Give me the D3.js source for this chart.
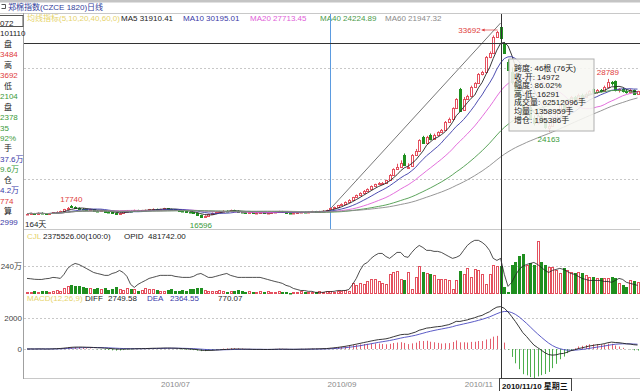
<!DOCTYPE html>
<html><head><meta charset="utf-8">
<script src="https://cdn.jsdelivr.net/npm/d3@7"></script>
<style>
body{margin:0;background:#fff}
svg{display:block}
text{font-family:"Liberation Sans","Noto Sans CJK SC",sans-serif;font-size:8px}
</style></head><body>
<svg id="c" width="640" height="391"></svg>
<script>
// ---------- DATA ----------
const opens=[16950,16980,17020,16950,17050,17000,16930,17010,17080,17150,
17200,17350,17680,17560,17480,17420,17380,17300,17350,17250,
17200,17280,17150,17100,17000,16950,17050,17200,17250,17200,
17300,17250,17280,17300,17350,17400,17350,17380,17450,17400,
17350,17300,17250,17200,17150,17100,17050,16850,16700,16800,
16950,17050,17150,17200,17250,17200,17300,17250,17150,17100,
17050,17100,17000,17050,17100,17000,17050,17100,17150,17200,
17100,17050,17000,17050,17100,17150,17100,17150,17200,17150,
17200,17250,17405,17480,17560,17700,17850,18000,18200,18400,
18600,18800,19000,19150,19400,19550,19600,19650,19900,20400,
20900,21100,22100,21000,21150,22100,22500,23700,23200,23900,
23500,23900,24100,24300,25000,25300,26200,27900,26100,27020,
27300,28100,28400,29200,29400,30700,31100,32500,33300,31900,
30300,29400,28300,27800,26600,25700,26300,25400,24900,25500,
25000,24500,24700,25400,25900,26500,26100,26800,27200,27000,
27400,27200,27500,27900,27600,27800,27700,28100,28500,28600,
27800,27900,27700,27600,27800,27500];
const highs=[17020,17060,17040,17080,17090,17020,17040,17110,17190,17240,
17400,17560,17740,17620,17520,17460,17400,17400,17370,17280,
17320,17300,17180,17120,17040,17090,17230,17290,17270,17330,
17320,17310,17340,17390,17440,17420,17410,17490,17470,17420,
17370,17320,17270,17220,17170,17120,17070,16880,16830,16980,
17080,17180,17230,17280,17270,17330,17320,17270,17170,17120,
17130,17120,17080,17130,17120,17080,17130,17180,17230,17220,
17120,17070,17080,17130,17180,17170,17180,17230,17220,17230,
17280,17330,17520,17600,17740,17880,18050,18250,18450,18650,
18850,19050,19200,19450,19600,19750,19750,19950,20450,20950,
21350,21650,22250,21400,22200,22650,23500,23800,23800,24000,
24000,24200,24400,25100,25400,26300,27100,28000,27200,27400,
28200,28500,29300,29500,30800,31200,32600,33000,33692,32000,
30500,29800,28600,28100,26900,26600,26500,25600,25700,25700,
25200,24900,25500,26000,26600,26600,26900,27300,27300,27500,
27500,27600,27800,28000,27900,27900,28200,28789,28600,28650,
27950,28000,27900,27900,27850,27750];
const lows=[16900,16950,16900,16930,16960,16880,16910,16990,17060,17120,
17180,17330,17500,17420,17380,17300,17260,17280,17210,17150,
17180,17120,17060,16960,16900,16930,17030,17170,17160,17180,
17210,17220,17250,17280,17330,17310,17330,17360,17370,17320,
17270,17220,17170,17120,17070,17020,16820,16596,16680,16780,
16930,17030,17120,17170,17170,17180,17220,17120,17070,17020,
17030,16980,16980,17030,16980,16980,17030,17080,17130,17080,
17020,16980,16980,17030,17080,17080,17080,17130,17130,17130,
17180,17230,17401,17450,17540,17680,17830,17980,18180,18380,
18580,18780,18950,19130,19380,19530,19560,19630,19880,20380,
20850,21050,21150,20900,21100,22050,22450,23100,23150,23400,
23450,23850,24050,24250,24950,25250,26150,25900,26050,26950,
27250,28000,28350,29100,29350,30600,31050,32400,32200,31000,
29500,28300,27500,26500,25700,25500,25200,24700,24800,24900,
24400,24163,24600,25300,25800,25900,26000,26700,26800,26900,
27000,27100,27400,27500,27500,27600,27650,28000,28200,27700,
27600,27600,27500,27500,27400,27450];
const closes=[16980,17020,16950,17050,17000,16930,17010,17080,17150,17200,
17350,17500,17560,17480,17420,17380,17300,17350,17250,17200,
17280,17150,17100,17000,16950,17050,17200,17250,17200,17300,
17250,17280,17300,17350,17400,17350,17380,17450,17400,17350,
17300,17250,17200,17150,17100,17050,16850,16700,16800,16950,
17050,17150,17200,17250,17200,17300,17250,17150,17100,17050,
17100,17000,17050,17100,17000,17050,17100,17150,17200,17100,
17050,17000,17050,17100,17150,17100,17150,17200,17150,17200,
17250,17300,17480,17560,17700,17850,18000,18200,18400,18600,
18800,19000,19150,19400,19550,19700,19650,19900,20400,20900,
21100,21400,21200,21100,22100,22480,23400,23200,23700,23500,
23900,24100,24300,25000,25300,26200,27000,26000,27020,27300,
28100,28400,29200,29400,30700,31100,32500,32870,32380,31100,
29600,28500,27700,26700,25800,26400,25400,24900,25500,25000,
24600,24700,25400,25900,26500,26100,26800,27200,27000,27400,
27200,27500,27700,27600,27800,27700,28100,28500,28400,27800,
27900,27700,27600,27800,27500,27700];
// volume, 万手
const volumes=[20,15,25,18,22,30,20,25,35,30,
55,70,75,65,70,60,55,50,45,50,
40,55,35,45,60,40,35,50,45,40,
30,35,55,45,40,35,30,25,35,40,
30,25,35,30,45,40,50,55,35,30,
25,30,35,25,20,30,25,35,30,20,
25,20,15,25,20,30,15,20,25,15,
20,10,15,20,25,15,20,15,20,25,
20,30,25,20,30,25,35,30,95,80,
95,90,110,125,130,110,95,85,170,190,
200,130,120,185,45,145,240,185,180,170,
165,130,130,125,120,45,120,200,170,225,
145,215,205,170,85,170,250,240,237.55,60,
20,250,275,325,340,250,265,250,455,275,
250,230,230,205,180,220,205,190,180,190,
180,160,145,150,140,140,135,135,145,135,
95,80,60,120,110,105];
// open interest (OPID), 万手
const openInterest=[36.4,36.2,35.9,35.8,35.8,36.2,36.4,37.0,36.8,36.4,
38.8,42.3,44.1,45.2,44.6,43.5,42.3,41.1,39.9,39.3,
38.8,38.2,38.2,39.3,39.9,41.1,39.9,37.6,32.9,31.1,
32.9,34.1,35.2,36.4,37.0,37.6,38.2,38.2,38.2,38.2,
37.6,37.3,37.0,37.0,37.0,37.6,38.8,39.3,38.2,37.0,
37.0,37.6,38.2,38.8,39.3,38.2,37.6,37.0,37.0,37.0,
37.0,37.0,37.0,37.0,36.4,35.8,35.2,34.6,34.1,33.5,
32.3,31.7,30.5,29.9,29.3,29.3,28.8,28.8,28.2,28.2,
28.2,28.7,28.63,28.8,29.3,29.3,29.3,29.9,32.9,36.4,
41.1,44.6,45.8,48.2,49.9,51.1,51.1,49.3,48.2,49.9,
51.7,51.7,49.3,48.8,51.7,54.1,55.8,54.6,52.9,52.9,
52.3,52.3,51.7,50.5,49.3,48.2,48.8,49.9,52.9,55.8,
57.6,58.8,58.8,57.6,55.8,52.9,48.2,47.0,48.17,38.8,
31.7,34.1,38.2,41.7,43.5,44.6,45.2,45.8,44.6,42.9,
41.1,39.9,41.1,41.7,42.3,41.7,40.5,39.3,38.8,37.6,
36.4,35.8,35.2,35.2,35.2,35.2,34.6,34.6,34.1,35.2,
36.4,35.8,34.1,33.5,32.9,32.3];
const tickLabels=["2010/07","2010/09","2010/11"];
const tickIndex=[40,85,122];
const maPeriods=[5,10,20,40,60];
const maLegend=["MA5 31910.41","MA10 30195.01","MA20 27713.45","MA40 24224.89","MA60 21947.32"];
const crossIndex=128, rangeStart=82;
const crossPrice=31910.41;
const gridPrices=[20000,29750];
const volGrid=[240], macdGrid=[0,2000];
const tooltipLines=["跨度: 46根 (76天)","收-开: 14972","幅度: 86.02%","高-低: 16291","成交量: 62512096手","均量: 1358959手","增仓: 195386手"];
const sideLabels=["072","101110","盘","3484","高","3692","低","2104","盘","2378","35","92%","手","37.6万","9.6万","仓","4.2万","774","算","2999"];
const sideColors=["k","k","k","r","k","r","k","g","k","g","g","g","k","b","g","k","b","r","k","b"];

// ---------- DRAW ----------
const svg=d3.select("#c");
const RED="#e4505e", GREEN="#1f8f1f", BLUE="#3a3aa8";
const col={k:"#222",r:"#e03c3c",g:"#3a9a3a",b:"#3a3aa8"};

const x=d3.scaleLinear().domain([0,165]).range([27,637.5]);
const y=d3.scaleLinear().domain([16596,33692]).range([218,23]);
const yV=d3.scaleLinear().domain([0,240]).range([294,266]);
const yOI=d3.scaleLinear().domain([28,58]).range([292.7,241.7]);
const yM=d3.scaleLinear().domain([0,2000]).range([349,318]);
const px=i=>Math.round(x(i));

const defs=svg.append("defs");
defs.append("clipPath").attr("id","cm").append("rect").attr("x",24).attr("y",14).attr("width",616).attr("height",215);
defs.append("clipPath").attr("id","cv").append("rect").attr("x",24).attr("y",229).attr("width",616).attr("height",68);
defs.append("clipPath").attr("id","cd").append("rect").attr("x",24).attr("y",303).attr("width",616).attr("height",76);

// frame
svg.append("rect").attr("x",0).attr("y",0).attr("width",640).attr("height",2.5).attr("fill","#c4c4c4");
svg.append("line").attr("x1",0).attr("x2",640).attr("y1",13.5).attr("y2",13.5).attr("stroke","#c8c8c8");
svg.append("line").attr("x1",23.5).attr("x2",23.5).attr("y1",13).attr("y2",379).attr("stroke","#a0a0a0");
svg.append("line").attr("x1",24).attr("x2",640).attr("y1",229.5).attr("y2",229.5).attr("stroke","#c8c8c8");
svg.append("line").attr("x1",24).attr("x2",640).attr("y1",378.5).attr("y2",378.5).attr("stroke","#c8c8c8");

// title
svg.append("path").attr("d","M1.5,4.5h4v4h-4").attr("fill","none").attr("stroke","#555");
svg.append("text").attr("x",8).attr("y",10).attr("fill","#33409a").text("郑棉指数(CZCE 1820)日线");

// side panel
svg.append("rect").attr("x",-1).attr("y",15.5).attr("width",24).attr("height",11).attr("fill","#fff").attr("stroke","#555");
sideLabels.forEach((t,k)=>{
  const isLbl=/[盘高低手仓算]/.test(t)&&t.length===1;
  svg.append("text").attr("x",isLbl?4:0).attr("y",26+k*10.45).attr("fill",col[sideColors[k]]).text(t);
});

// grid lines
const dash="2,2";
gridPrices.forEach(p=>svg.append("line").attr("x1",24).attr("x2",640).attr("y1",Math.round(y(p))+.5).attr("y2",Math.round(y(p))+.5).attr("stroke","#c8c8c8").attr("stroke-dasharray",dash));
volGrid.forEach(v=>svg.append("line").attr("x1",24).attr("x2",640).attr("y1",Math.round(yV(v))+.5).attr("y2",Math.round(yV(v))+.5).attr("stroke","#c8c8c8").attr("stroke-dasharray",dash));
macdGrid.forEach(v=>svg.append("line").attr("x1",24).attr("x2",640).attr("y1",Math.round(yM(v))+.5).attr("y2",Math.round(yM(v))+.5).attr("stroke","#c8c8c8").attr("stroke-dasharray",dash));

// legends
const lg=svg.append("g");
lg.append("text").attr("x",27).attr("y",21).attr("fill","#e6d36a").text("均线指标(5,10,20,40,60,0)");
const maCols=["#222","#3a3aa8","#e060d8","#4a9a4a","#8a8a8a"];
const maX=[121,183,250,320,385];
maLegend.forEach((t,k)=>lg.append("text").attr("x",maX[k]).attr("y",21).attr("fill",maCols[k]).text(t));

// main panel
const gm=svg.append("g").attr("clip-path","url(#cm)");
// range marker (blue) and trend line
gm.append("line").attr("x1",px(rangeStart)+.5).attr("x2",px(rangeStart)+.5).attr("y1",14).attr("y2",229).attr("stroke","#5b9be0");
gm.append("line").attr("x1",x(rangeStart)).attr("y1",y(lows[rangeStart])).attr("x2",x(crossIndex)).attr("y2",y(highs[crossIndex])).attr("stroke","#555").attr("stroke-width",0.8);

const idx=d3.range(closes.length);
const cg=gm.append("g");
idx.forEach(i=>{
  const up=closes[i]>=opens[i];
  const c=up?RED:GREEN;
  const xc=px(i)+.5;
  const yt=Math.round(y(Math.max(opens[i],closes[i])));
  const yb=Math.round(y(Math.min(opens[i],closes[i])));
  cg.append("line").attr("x1",xc).attr("x2",xc).attr("y1",y(highs[i])).attr("y2",yt+.5).attr("stroke",c);
  cg.append("line").attr("x1",xc).attr("x2",xc).attr("y1",yb+.5).attr("y2",y(lows[i])).attr("stroke",c);
  cg.append("rect").attr("x",xc-1).attr("y",yt+.5).attr("width",2).attr("height",Math.max(0.5,yb-yt))
    .attr("fill",up?"#fff":c).attr("stroke",c);
});
// moving averages
function ma(n){return closes.map((c,i)=>d3.mean(closes.slice(Math.max(0,i-n+1),i+1)));}
maPeriods.forEach((n,k)=>{
  const v=ma(n);
  gm.append("path").datum(v).attr("fill","none").attr("stroke",maCols[k]).attr("stroke-width",0.9)
    .attr("d",d3.line().x((d,i)=>x(i)).y(d=>y(d)));
});
// crosshair horizontal
gm.append("line").attr("x1",24).attr("x2",640).attr("y1",Math.round(y(crossPrice))+.5).attr("y2",Math.round(y(crossPrice))+.5).attr("stroke","#333");

// price labels
const hiI=crossIndex;
svg.append("text").attr("x",x(hiI)-20).attr("y",y(highs[hiI])+10).attr("text-anchor","end").attr("fill","#e03c3c").text(d3.format("d")(highs[hiI]));
svg.append("line").attr("x1",x(hiI)-19).attr("x2",x(hiI)-3).attr("y1",y(highs[hiI])+7).attr("y2",y(highs[hiI])+7).attr("stroke","#e03c3c").attr("stroke-width",0.7);
svg.append("path").attr("d",`M${x(hiI)-19},${y(highs[hiI])+7}l3,-1.5v3z`).attr("fill","#e03c3c");
const lbl=(i,v,dy,c)=>svg.append("text").attr("x",x(i)).attr("y",y(v)+dy).attr("text-anchor","middle").attr("fill",c).text(v);
lbl(12,highs[12],-3,"#e03c3c");
lbl(47,lows[47],10,"#3a9a3a");
lbl(141,lows[141],10,"#3a9a3a");
lbl(157,highs[157],-4,"#e03c3c");
svg.append("text").attr("x",25).attr("y",227).attr("fill","#222").text("164天");

// volume panel
const gv=svg.append("g").attr("clip-path","url(#cv)");
idx.forEach(i=>{
  const up=closes[i]>=opens[i];
  const c=up?RED:GREEN;
  const xc=px(i)+.5;
  const yt=Math.round(yV(volumes[i]));
  gv.append("rect").attr("x",xc-1).attr("y",yt+.5).attr("width",2).attr("height",Math.max(0.5,293-yt))
    .attr("fill",up?"#fff":c).attr("stroke",c);
});
gv.append("path").datum(openInterest).attr("fill","none").attr("stroke","#222").attr("stroke-width",0.8)
  .attr("d",d3.line().x((d,i)=>x(i)).y(d=>yOI(d)));
svg.append("text").attr("x",27).attr("y",239).attr("fill","#e6d36a").text("CJL");
svg.append("text").attr("x",43).attr("y",239).attr("fill","#222").text("2375526.00(100:0)");
svg.append("text").attr("x",124).attr("y",239).attr("fill","#222").text("OPID");
svg.append("text").attr("x",148).attr("y",239).attr("fill","#222").text("481742.00");
svg.append("g").attr("transform","translate(22,0)").call(d3.axisLeft(yV).tickValues(volGrid).tickSize(0).tickFormat(d=>d+"万"))
  .call(g=>g.select(".domain").remove()).selectAll("text").attr("fill","#444").style("font-size","8px").attr("dy","0.32em").attr("x",0);

// MACD
function ema(a,n){const k=2/(n+1);const o=[];a.forEach((v,i)=>o.push(i?o[i-1]+k*(v-o[i-1]):v));return o;}
const e12=ema(closes,12), e26=ema(closes,26);
const diff=e12.map((v,i)=>v-e26[i]);
const dea=ema(diff,9);
const hist=diff.map((v,i)=>2*(v-dea[i]));
const gd=svg.append("g").attr("clip-path","url(#cd)");
idx.forEach(i=>{
  const xc=px(i)+.5;
  gd.append("line").attr("x1",xc).attr("x2",xc).attr("y1",yM(0)).attr("y2",yM(hist[i])).attr("stroke",hist[i]>=0?"#e4606e":"#4cae4c");
});
gd.append("path").datum(dea).attr("fill","none").attr("stroke","#4848c0").attr("stroke-width",0.9).attr("d",d3.line().x((d,i)=>x(i)).y(d=>yM(d)));
gd.append("path").datum(diff).attr("fill","none").attr("stroke","#222").attr("stroke-width",0.9).attr("d",d3.line().x((d,i)=>x(i)).y(d=>yM(d)));
svg.append("text").attr("x",27).attr("y",301).attr("fill","#e6d36a").text("MACD(12,26,9)");
svg.append("text").attr("x",85).attr("y",301).attr("fill","#222").text("DIFF");
svg.append("text").attr("x",108).attr("y",301).attr("fill","#222").text("2749.58");
svg.append("text").attr("x",147).attr("y",301).attr("fill","#3a3aa8").text("DEA");
svg.append("text").attr("x",170).attr("y",301).attr("fill","#3a3aa8").text("2364.55");
svg.append("text").attr("x",218).attr("y",301).attr("fill","#222").text("770.07");
svg.append("g").attr("transform","translate(22,0)").call(d3.axisLeft(yM).tickValues(macdGrid).tickSize(0).tickFormat(d3.format("d")))
  .call(g=>g.select(".domain").remove()).selectAll("text").attr("fill","#444").style("font-size","8px").attr("dy","0.32em").attr("x",0);

// x axis
svg.append("g").attr("transform","translate(0,380)").call(d3.axisBottom(x).tickValues(tickIndex).tickSize(0).tickFormat((d,i)=>tickLabels[i]))
  .call(g=>g.select(".domain").remove()).selectAll("text").attr("fill","#8a8a8a").style("font-size","8px").attr("dy","0.71em").attr("y",1);

// crosshair vertical
svg.append("line").attr("x1",px(crossIndex)+.5).attr("x2",px(crossIndex)+.5).attr("y1",14).attr("y2",379).attr("stroke","#333");
svg.append("rect").attr("x",px(crossIndex)-1.5).attr("y",378.5).attr("width",72).attr("height",13).attr("fill","#fff").attr("stroke","#444");
svg.append("text").attr("x",px(crossIndex)+1).attr("y",389).attr("fill","#111").style("font-weight","bold").text("2010/11/10 星期三");

// tooltip
const tx=px(crossIndex)+8, ty=59;
svg.append("rect").attr("x",tx).attr("y",ty).attr("width",85).attr("height",72).attr("fill","#f7f7f2").attr("fill-opacity",0.88).attr("stroke","#b0b0b0");
tooltipLines.forEach((t,k)=>svg.append("text").attr("x",tx+5).attr("y",ty+12+k*8.6).attr("fill","#222").text(t));
</script>
</body></html>
